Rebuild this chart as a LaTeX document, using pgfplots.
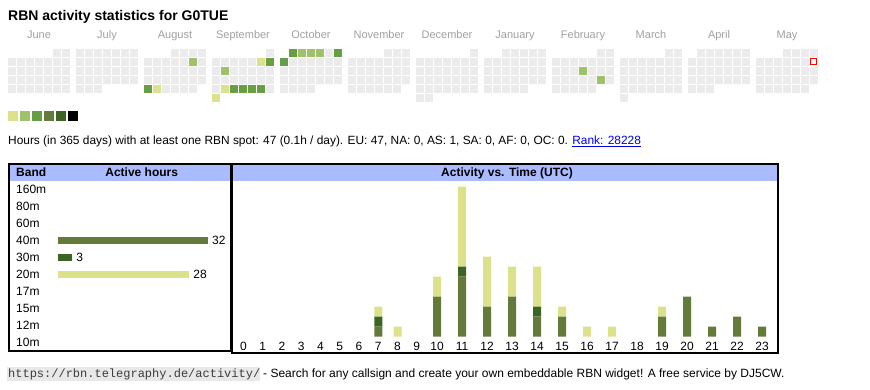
\documentclass[border=0pt]{standalone}
\usepackage{fontspec}
\setmainfont{Liberation Sans}
\setmonofont{Liberation Mono}
\usepackage{pgfplots}
\usepackage{pgfplotstable}
\pgfplotsset{compat=1.18}
\definecolor{cgray}{RGB}{235,235,235}
\definecolor{lvA}{RGB}{220,226,139}
\definecolor{lvB}{RGB}{158,193,106}
\definecolor{lvC}{RGB}{103,158,68}
\definecolor{lvD}{RGB}{100,122,59}
\definecolor{lvE}{RGB}{60,100,37}
\definecolor{hdrblue}{RGB}{170,187,255}
\definecolor{monthgray}{RGB}{160,160,160}
\definecolor{urlbg}{RGB}{232,232,232}
\definecolor{urltext}{RGB}{60,60,60}
\definecolor{linkblue}{RGB}{0,0,238}

\pgfplotstableread{
pos hour b40 b30 b20
243.5 0 0 0 0
262.75 1 0 0 0
282 2 0 0 0
301.25 3 0 0 0
320.5 4 0 0 0
339.75 5 0 0 0
359 6 0 0 0
378.25 7 1 1 1
397.5 8 0 0 1
416.75 9 0 0 0
437 10 4 0 2
462 11 6 1 8
487 12 3 0 5
512 13 4 0 3
537 14 2 1 4
562 15 2 0 1
587 16 0 0 1
612 17 0 0 1
637 18 0 0 0
662 19 2 0 1
687 20 4 0 0
712 21 1 0 0
737 22 2 0 0
762 23 1 0 0
}\hours

\pgfplotsset{cell/.style={only marks, mark=square*, mark size=3.3pt, mark options={fill=#1, draw=#1, line width=0.4pt}},
  swatch/.style={only marks, mark=square*, mark size=4.4pt, mark options={fill=#1, draw=#1, line width=0.4pt}}}

\begin{document}
\begin{tikzpicture}[x=1pt,y=1pt]
\useasboundingbox (0,0) rectangle (870,390);

% title
\node[anchor=base west, inner sep=0pt, font=\bfseries\fontsize{14}{16}\selectfont] at (8,369.5) {RBN activity statistics for G0TUE};

% month labels
\foreach \mname/\moff in {June/8, July/76, August/144, September/212, October/280, November/348, December/416, January/484, February/552, March/620, April/688, May/756}
  \node[anchor=base, inner sep=0pt, text=monthgray, font=\fontsize{11}{13}\selectfont] at (\moff+31,351) {\mname};

% calendar
\begin{axis}[at={(0,0)}, anchor=south west, scale only axis, width=870pt, height=390pt,
  xmin=-3.5, xmax=866.5, ymin=-3.5, ymax=386.5, y dir=reverse, hide axis, clip=false]
\addplot[cell=cgray] coordinates {
(53,49)(62,49)
(8,58)(17,58)(26,58)(35,58)(44,58)(53,58)(62,58)
(8,67)(17,67)(26,67)(35,67)(44,67)(53,67)(62,67)
(8,76)(17,76)(26,76)(35,76)(44,76)(53,76)(62,76)
(8,85)(17,85)(26,85)(35,85)(44,85)(53,85)(62,85)
(76,49)(85,49)(94,49)(103,49)(112,49)(121,49)(130,49)
(76,58)(85,58)(94,58)(103,58)(112,58)(121,58)(130,58)
(76,67)(85,67)(94,67)(103,67)(112,67)(121,67)(130,67)
(76,76)(85,76)(94,76)(103,76)(112,76)(121,76)(130,76)
(76,85)(85,85)(94,85)
(171,49)(180,49)(189,49)(198,49)
(144,58)(153,58)(162,58)(171,58)(180,58)(189,58)(198,58)
(144,67)(153,67)(162,67)(171,67)(180,67)(189,67)(198,67)
(144,76)(153,76)(162,76)(171,76)(180,76)(189,76)(198,76)
(144,85)(153,85)(162,85)(171,85)(180,85)(189,85)
(266,49)
(212,58)(221,58)(230,58)(239,58)(248,58)(257,58)(266,58)
(212,67)(221,67)(230,67)(239,67)(248,67)(257,67)(266,67)
(212,76)(221,76)(230,76)(239,76)(248,76)(257,76)(266,76)
(212,85)(221,85)(230,85)(239,85)(248,85)(257,85)(266,85)
(212,94)
(289,49)(298,49)(307,49)(316,49)(325,49)(334,49)
(280,58)(289,58)(298,58)(307,58)(316,58)(325,58)(334,58)
(280,67)(289,67)(298,67)(307,67)(316,67)(325,67)(334,67)
(280,76)(289,76)(298,76)(307,76)(316,76)(325,76)(334,76)
(280,85)(289,85)(298,85)(307,85)
(384,49)(393,49)(402,49)
(348,58)(357,58)(366,58)(375,58)(384,58)(393,58)(402,58)
(348,67)(357,67)(366,67)(375,67)(384,67)(393,67)(402,67)
(348,76)(357,76)(366,76)(375,76)(384,76)(393,76)(402,76)
(348,85)(357,85)(366,85)(375,85)(384,85)(393,85)
(470,49)
(416,58)(425,58)(434,58)(443,58)(452,58)(461,58)(470,58)
(416,67)(425,67)(434,67)(443,67)(452,67)(461,67)(470,67)
(416,76)(425,76)(434,76)(443,76)(452,76)(461,76)(470,76)
(416,85)(425,85)(434,85)(443,85)(452,85)(461,85)(470,85)
(416,94)(425,94)
(502,49)(511,49)(520,49)(529,49)(538,49)
(484,58)(493,58)(502,58)(511,58)(520,58)(529,58)(538,58)
(484,67)(493,67)(502,67)(511,67)(520,67)(529,67)(538,67)
(484,76)(493,76)(502,76)(511,76)(520,76)(529,76)(538,76)
(484,85)(493,85)(502,85)(511,85)(520,85)
(597,49)(606,49)
(552,58)(561,58)(570,58)(579,58)(588,58)(597,58)(606,58)
(552,67)(561,67)(570,67)(579,67)(588,67)(597,67)(606,67)
(552,76)(561,76)(570,76)(579,76)(588,76)(597,76)(606,76)
(552,85)(561,85)(570,85)(579,85)(588,85)
(665,49)(674,49)
(620,58)(629,58)(638,58)(647,58)(656,58)(665,58)(674,58)
(620,67)(629,67)(638,67)(647,67)(656,67)(665,67)(674,67)
(620,76)(629,76)(638,76)(647,76)(656,76)(665,76)(674,76)
(620,85)(629,85)(638,85)(647,85)(656,85)(665,85)(674,85)
(620,94)
(697,49)(706,49)(715,49)(724,49)(733,49)(742,49)
(688,58)(697,58)(706,58)(715,58)(724,58)(733,58)(742,58)
(688,67)(697,67)(706,67)(715,67)(724,67)(733,67)(742,67)
(688,76)(697,76)(706,76)(715,76)(724,76)(733,76)(742,76)
(688,85)(697,85)(706,85)
(783,49)(792,49)(801,49)(810,49)
(756,58)(765,58)(774,58)(783,58)(792,58)(801,58)
(756,67)(765,67)(774,67)(783,67)(792,67)(801,67)(810,67)
(756,76)(765,76)(774,76)(783,76)(792,76)(801,76)(810,76)
(756,85)(765,85)(774,85)(783,85)(792,85)(801,85)
};
% active days, level 1
\addplot[cell=lvA] coordinates {(153,85)(257,58)(221,85)(212,94)};
% level 2
\addplot[cell=lvB] coordinates {(189,58)(221,67)(298,49)(307,49)(316,49)(579,67)(597,76)};
% level 3
\addplot[cell=lvC] coordinates {(144,85)(266,58)(230,85)(239,85)(248,85)(257,85)(289,49)(334,49)(280,58)};
% today
\addplot[only marks, mark=square*, mark size=3pt, mark options={draw=red, fill=white, line width=1pt}] coordinates {(810,58)};
% colour scale
\addplot[swatch=lvA] coordinates {(9.5,112.3)};
\addplot[swatch=lvB] coordinates {(21.5,112.3)};
\addplot[swatch=lvC] coordinates {(33.5,112.3)};
\addplot[swatch=lvD] coordinates {(45.5,112.3)};
\addplot[swatch=lvE] coordinates {(57.5,112.3)};
\addplot[swatch=black] coordinates {(69.5,112.3)};
\end{axis}

% info line
\node[anchor=base west, inner sep=0pt, font=\fontsize{11.9}{14}\selectfont] at (8,245) {Hours (in 365 days) with at least one RBN spot: 47 (0.1h / day). EU: 47, NA: 0, AS: 1, SA: 0, AF: 0, OC: 0. \textcolor{linkblue}{\underline{Rank: 28228}}};

% table headers
\fill[hdrblue] (10,209) rectangle (230,225);
\fill[hdrblue] (233,209) rectangle (776.7,225);
\node[anchor=base west, inner sep=0pt, font=\bfseries\fontsize{12}{14}\selectfont] at (16,213.3) {Band};
\node[anchor=base, inner sep=0pt, font=\bfseries\fontsize{12}{14}\selectfont] at (141.7,213.3) {Active hours};
\node[anchor=base, inner sep=0pt, font=\bfseries\fontsize{12}{14}\selectfont] at (507,213.3) {Activity vs. Time (UTC)};

% band bars: hours on x (4.6875 px per hour, zero at px 58), band rows on y (17 px apart)
\begin{axis}[at={(0,0)}, anchor=south west, scale only axis, width=870pt, height=390pt,
  xmin=-12.3733, xmax=173.2267, ymin=-11.1294, ymax=11.8118, y dir=reverse, hide axis, clip=false]
\addplot[xbar, bar width=7pt, bar shift=0pt, fill=lvD, draw=none] coordinates {(32,3)};
\addplot[xbar, bar width=7pt, bar shift=0pt, fill=lvE, draw=none] coordinates {(3,4)};
\addplot[xbar, bar width=7pt, bar shift=0pt, fill=lvA, draw=none] coordinates {(28,5)};
\node[anchor=west, inner sep=0pt, font=\fontsize{12}{14}\selectfont] at (axis cs:-8.96,0) {160m};
\node[anchor=west, inner sep=0pt, font=\fontsize{12}{14}\selectfont] at (axis cs:-8.96,1) {80m};
\node[anchor=west, inner sep=0pt, font=\fontsize{12}{14}\selectfont] at (axis cs:-8.96,2) {60m};
\node[anchor=west, inner sep=0pt, font=\fontsize{12}{14}\selectfont] at (axis cs:-8.96,3) {40m};
\node[anchor=west, inner sep=0pt, font=\fontsize{12}{14}\selectfont] at (axis cs:-8.96,4) {30m};
\node[anchor=west, inner sep=0pt, font=\fontsize{12}{14}\selectfont] at (axis cs:-8.96,5) {20m};
\node[anchor=west, inner sep=0pt, font=\fontsize{12}{14}\selectfont] at (axis cs:-8.96,6) {17m};
\node[anchor=west, inner sep=0pt, font=\fontsize{12}{14}\selectfont] at (axis cs:-8.96,7) {15m};
\node[anchor=west, inner sep=0pt, font=\fontsize{12}{14}\selectfont] at (axis cs:-8.96,8) {12m};
\node[anchor=west, inner sep=0pt, font=\fontsize{12}{14}\selectfont] at (axis cs:-8.96,9) {10m};
\node[anchor=west, inner sep=0pt, xshift=4pt, font=\fontsize{12}{14}\selectfont] at (axis cs:32,3) {32};
\node[anchor=west, inner sep=0pt, xshift=4pt, font=\fontsize{12}{14}\selectfont] at (axis cs:3,4) {3};
\node[anchor=west, inner sep=0pt, xshift=4pt, font=\fontsize{12}{14}\selectfont] at (axis cs:28,5) {28};
\end{axis}

% activity vs time
\begin{axis}[at={(234,53.3)}, anchor=south west, scale only axis, width=544pt, height=150pt,
  xmin=234, xmax=778, ymin=0, ymax=15,
  ybar stacked, bar width=8pt,
  xtick=data, xticklabels from table={\hours}{hour},
  ytick=\empty, axis line style={draw=none}, tick style={draw=none}, major tick length=0pt,
  xticklabel style={font=\fontsize{12}{14}\selectfont, anchor=center, inner sep=0pt, yshift=-9.3pt},
  clip=false]
\addplot[fill=lvD, draw=none] table[x=pos, y=b40] {\hours};
\addplot[fill=lvE, draw=none] table[x=pos, y=b30] {\hours};
\addplot[fill=lvA, draw=none] table[x=pos, y=b20] {\hours};
\end{axis}

% borders
\draw[line width=2pt] (9,38.7) rectangle (231,226);
\draw[line width=2pt] (232,36.7) rectangle (777.7,226);

% footer
\fill[urlbg] (7,9) rectangle (260,23);
\node[anchor=base west, inner sep=0pt, text=urltext, font=\ttfamily\fontsize{12}{14}\selectfont] at (8,12.5) {https://rbn.telegraphy.de/activity/};
\node[anchor=base west, inner sep=0pt, font=\fontsize{12}{14}\selectfont] at (263,12.5) {- Search for any callsign and create your own embeddable RBN widget! A free service by DJ5CW.};
\end{tikzpicture}
\end{document}
